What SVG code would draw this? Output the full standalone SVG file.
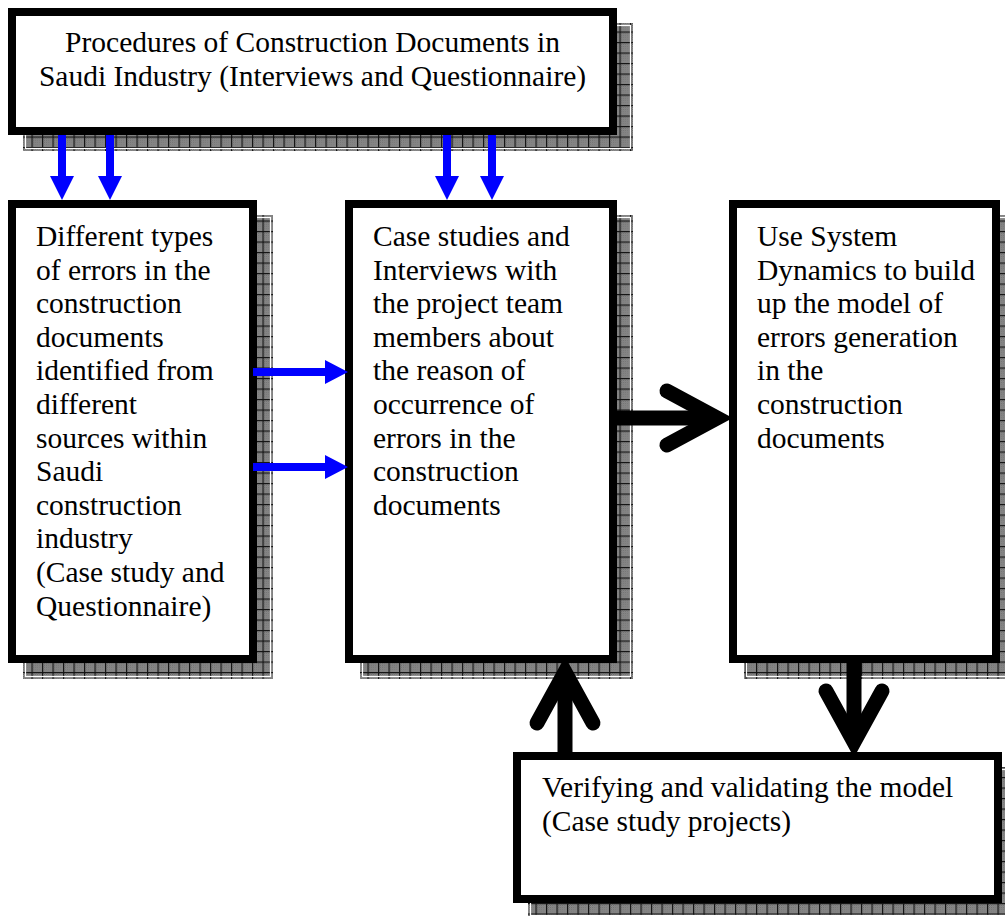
<svg xmlns="http://www.w3.org/2000/svg" width="1005" height="916" viewBox="0 0 1005 916">
  <style>
    .box { fill: #ffffff; stroke: #000000; stroke-width: 8; }
    .shadow { fill: url(#hatch); }
    .shadow-line { fill: none; stroke: #ffffff; stroke-width: 1.2; }
    .label { font-family: "Liberation Serif", "Times New Roman", serif; font-size: 29.5px; fill: #000000; }
    .blue { fill: #0000ff; }
    .thick { fill: none; stroke: #000000; stroke-width: 15; stroke-linecap: round; stroke-linejoin: miter; stroke-miterlimit: 10; }
    .shaft { fill: none; stroke: #000000; stroke-width: 15; }
  </style>
  <defs>
    <!-- fine dither used as the shadow base tone -->
    <pattern id="dither" width="2" height="2" patternUnits="userSpaceOnUse">
      <rect width="2" height="2" fill="#b0b0b0"/>
      <rect width="1" height="1" fill="#545454"/>
      <rect x="1" y="1" width="1" height="1" fill="#545454"/>
    </pattern>
    <!-- dithered tone crossed by a dark grid -->
    <pattern id="hatch" width="10.5" height="10.5" patternUnits="userSpaceOnUse">
      <rect width="10.5" height="10.5" fill="url(#dither)"/>
      <rect width="10.5" height="1.2" fill="#141414"/>
      <rect width="1.2" height="10.5" fill="#141414"/>
    </pattern>
  </defs>

  <!-- drop shadows -->
  <g id="shadows">
    <rect class="shadow" x="23" y="23" width="610" height="128"/>
    <rect class="shadow-line" x="25.5" y="25.5" width="605" height="123"/>
    <rect class="shadow" x="23" y="215" width="250" height="464"/>
    <rect class="shadow-line" x="25.5" y="217.5" width="245" height="459"/>
    <rect class="shadow" x="360" y="215" width="273" height="464"/>
    <rect class="shadow-line" x="362.5" y="217.5" width="268" height="459"/>
    <rect class="shadow" x="744" y="215" width="272" height="464"/>
    <rect class="shadow-line" x="746.5" y="217.5" width="267" height="459"/>
    <rect class="shadow" x="528" y="767" width="490" height="151"/>
    <rect class="shadow-line" x="530.5" y="769.5" width="485" height="146"/>
  </g>

  <g id="node-procedures">
    <rect class="box" x="12" y="12" width="601" height="119"/>
    <text class="label" x="312.5" y="52" text-anchor="middle">Procedures of Construction Documents in</text>
    <text class="label" x="312.5" y="86" text-anchor="middle">Saudi Industry (Interviews and Questionnaire)</text>
  </g>

  <g id="node-error-types">
    <rect class="box" x="12" y="204" width="241" height="455"/>
    <text class="label" x="36" y="246">
      <tspan x="36" dy="0">Different types</tspan>
      <tspan x="36" dy="33.6">of errors in the</tspan>
      <tspan x="36" dy="33.6">construction</tspan>
      <tspan x="36" dy="33.6">documents</tspan>
      <tspan x="36" dy="33.6">identified from</tspan>
      <tspan x="36" dy="33.6">different</tspan>
      <tspan x="36" dy="33.6">sources within</tspan>
      <tspan x="36" dy="33.6">Saudi</tspan>
      <tspan x="36" dy="33.6">construction</tspan>
      <tspan x="36" dy="33.6">industry</tspan>
      <tspan x="36" dy="33.6">(Case study and</tspan>
      <tspan x="36" dy="33.6">Questionnaire)</tspan>
    </text>
  </g>

  <g id="node-case-studies">
    <rect class="box" x="349" y="204" width="264" height="455"/>
    <text class="label" x="373" y="246">
      <tspan x="373" dy="0">Case studies and</tspan>
      <tspan x="373" dy="33.6">Interviews with</tspan>
      <tspan x="373" dy="33.6">the project team</tspan>
      <tspan x="373" dy="33.6">members about</tspan>
      <tspan x="373" dy="33.6">the reason of</tspan>
      <tspan x="373" dy="33.6">occurrence of</tspan>
      <tspan x="373" dy="33.6">errors in the</tspan>
      <tspan x="373" dy="33.6">construction</tspan>
      <tspan x="373" dy="33.6">documents</tspan>
    </text>
  </g>

  <g id="node-system-dynamics">
    <rect class="box" x="733" y="204" width="263" height="455"/>
    <text class="label" x="757" y="246">
      <tspan x="757" dy="0">Use System</tspan>
      <tspan x="757" dy="33.6">Dynamics to build</tspan>
      <tspan x="757" dy="33.6">up the model of</tspan>
      <tspan x="757" dy="33.6">errors generation</tspan>
      <tspan x="757" dy="33.6">in the</tspan>
      <tspan x="757" dy="33.6">construction</tspan>
      <tspan x="757" dy="33.6">documents</tspan>
    </text>
  </g>

  <g id="node-verification">
    <rect class="box" x="517" y="756" width="481" height="143"/>
    <text class="label" x="542" y="797">Verifying and validating the model</text>
    <text class="label" x="542" y="831">(Case study projects)</text>
  </g>

  <g id="connectors">
    <!-- blue arrows from the top box -->
    <polygon class="blue" points="58,135 66,135 66,176 74,176 62,200 50,176 58,176"/>
    <polygon class="blue" points="106,135 114,135 114,176 122,176 110,200 98,176 106,176"/>
    <polygon class="blue" points="443,135 451,135 451,176 459,176 447,200 435,176 443,176"/>
    <polygon class="blue" points="488,135 496,135 496,176 504,176 492,200 480,176 488,176"/>
    <!-- blue arrows between left and middle boxes -->
    <polygon class="blue" points="253,368 325,368 325,360 348,372 325,384 325,376 253,376"/>
    <polygon class="blue" points="253,463 325,463 325,455 348,467 325,479 325,471 253,471"/>
    <!-- heavy black arrows -->
    <line class="shaft" x1="617" y1="418" x2="712" y2="418"/>
    <polyline class="thick" points="667,391 717,418 667,445"/>
    <line class="shaft" x1="565" y1="752" x2="565" y2="672"/>
    <polyline class="thick" points="537,723 565,672 593,723"/>
    <line class="shaft" x1="854" y1="663" x2="854" y2="742"/>
    <polyline class="thick" points="826,691 854,742 882,691"/>
  </g>
</svg>
